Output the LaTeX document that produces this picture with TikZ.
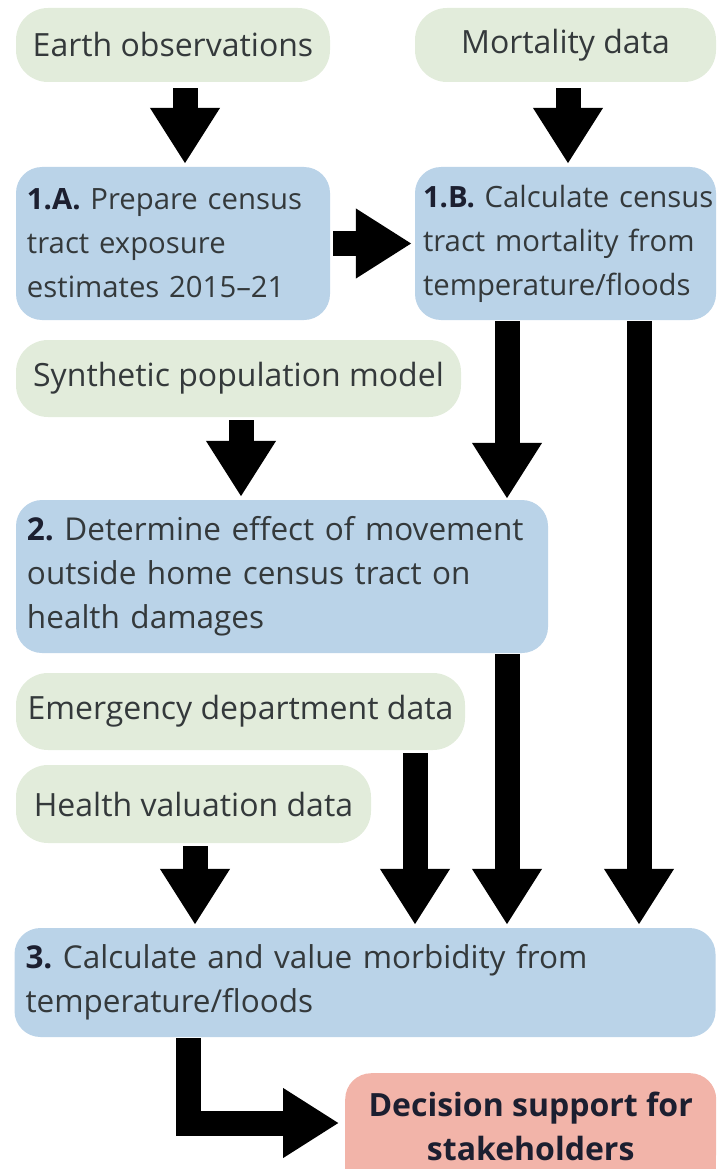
\documentclass[tikz,border=0pt]{standalone}
\usepackage{fontspec}
\setmainfont{Open Sans}
\usetikzlibrary{arrows.meta}
\definecolor{gbox}{HTML}{E2ECDB}
\definecolor{bbox}{HTML}{BAD3E8}
\definecolor{pbox}{HTML}{F2B4A9}
\definecolor{txt}{HTML}{34393B}
\definecolor{numc}{HTML}{1C1F30}
\newcommand{\lbl}[1]{{\bfseries\color{numc}#1}}
\frenchspacing
\begin{document}
\begin{tikzpicture}[x=1pt,y=-1pt,
  inbox/.style={font=\fontsize{32}{44}\selectfont, fill=gbox, rounded corners=32pt, inner sep=0pt, align=center, text=txt},
  stepbox/.style={font=\fontsize{31.5}{44}\selectfont, fill=bbox, rounded corners=26pt, inner xsep=11pt, inner ysep=0pt, align=left, text=txt},
  smallstep/.style={stepbox, font=\fontsize{29.3}{44}\selectfont},
  outbox/.style={fill=pbox, rounded corners=26pt, inner sep=0pt, align=center, text=numc, font=\fontsize{32}{44}\selectfont\bfseries},
  bigarrow/.style={draw=black, line width=25pt, -{Triangle[width=66pt,length=56pt]}, shorten <=3pt, shorten >=3pt}
]
\useasboundingbox (0,0) rectangle (722,1169);
\clip (0,0) rectangle (722,1169);

% input boxes
\node[inbox, minimum width=314pt, minimum height=74pt] (eo) at (173,45) {Earth observations};
\node[inbox, minimum width=301pt, minimum height=74pt] (md) at (565.5,45) {Mortality data};
\node[inbox, minimum width=445pt, minimum height=77pt] (sp) at (238.5,378.5) {Synthetic population model};
\node[inbox, minimum width=449pt, minimum height=77pt] (ed) at (240.5,711.5) {Emergency department data};
\node[inbox, minimum width=355pt, minimum height=78pt] (hv) at (193.5,804) {Health valuation data};

% step boxes
\node[smallstep, text width=292pt, minimum height=153pt] (pa) at (173,243.5)
  {\mbox{\lbl{1.A.} Prepare census}\\\mbox{tract exposure}\\\mbox{estimates 2015–21}};
\node[smallstep, inner xsep=8pt, text width=285pt, minimum height=153pt] (pb) at (565.5,243.5)
  {\mbox{\lbl{1.B.} Calculate census}\\\mbox{tract mortality from}\\\mbox{temperature/floods}};
\node[stepbox, text width=510pt, minimum height=153pt] (two) at (282,576.5)
  {\mbox{\lbl{2.} Determine effect of movement}\\\mbox{outside home census tract on}\\\mbox{health damages}};
\node[stepbox, text width=679pt, minimum height=109pt] (three) at (365,982.5)
  {\mbox{\lbl{3.} Calculate and value morbidity from}\\\mbox{temperature/floods}};

% output (box continues past the lower edge)
\fill[pbox] (345,1140) rectangle (716,1200);
\node[outbox, minimum width=371pt, minimum height=106pt, anchor=north west] (dec) at (345,1073)
  {Decision support for\\stakeholders};

% arrows
\draw[bigarrow, shorten <=6pt] (eo.south -| 185,0) -- (pa.north -| 185,0);
\draw[bigarrow, shorten <=6pt] (md.south -| 568,0) -- (pb.north -| 568,0);
\draw[bigarrow] (pa.east) -- (pb.west);
\draw[bigarrow] (sp.south -| 241,0) -- (two.north -| 241,0);
\draw[bigarrow, shorten <=1pt, shorten >=1pt] (pb.south -| 507,0) -- (two.north -| 507,0);
\draw[bigarrow, shorten <=1pt] (pb.south -| 639,0) -- (three.north -| 639,0);
\draw[bigarrow, shorten <=1pt] (two.south -| 507,0) -- (three.north -| 507,0);
\draw[bigarrow] (ed.south -| 415,0) -- (three.north -| 415,0);
\draw[bigarrow] (hv.south -| 195,0) -- (three.north -| 195,0);
\draw[bigarrow, shorten <=1pt, shorten >=6pt] (three.south -| 188,0) |- (dec.west |- 0,1123);
\end{tikzpicture}
\end{document}
